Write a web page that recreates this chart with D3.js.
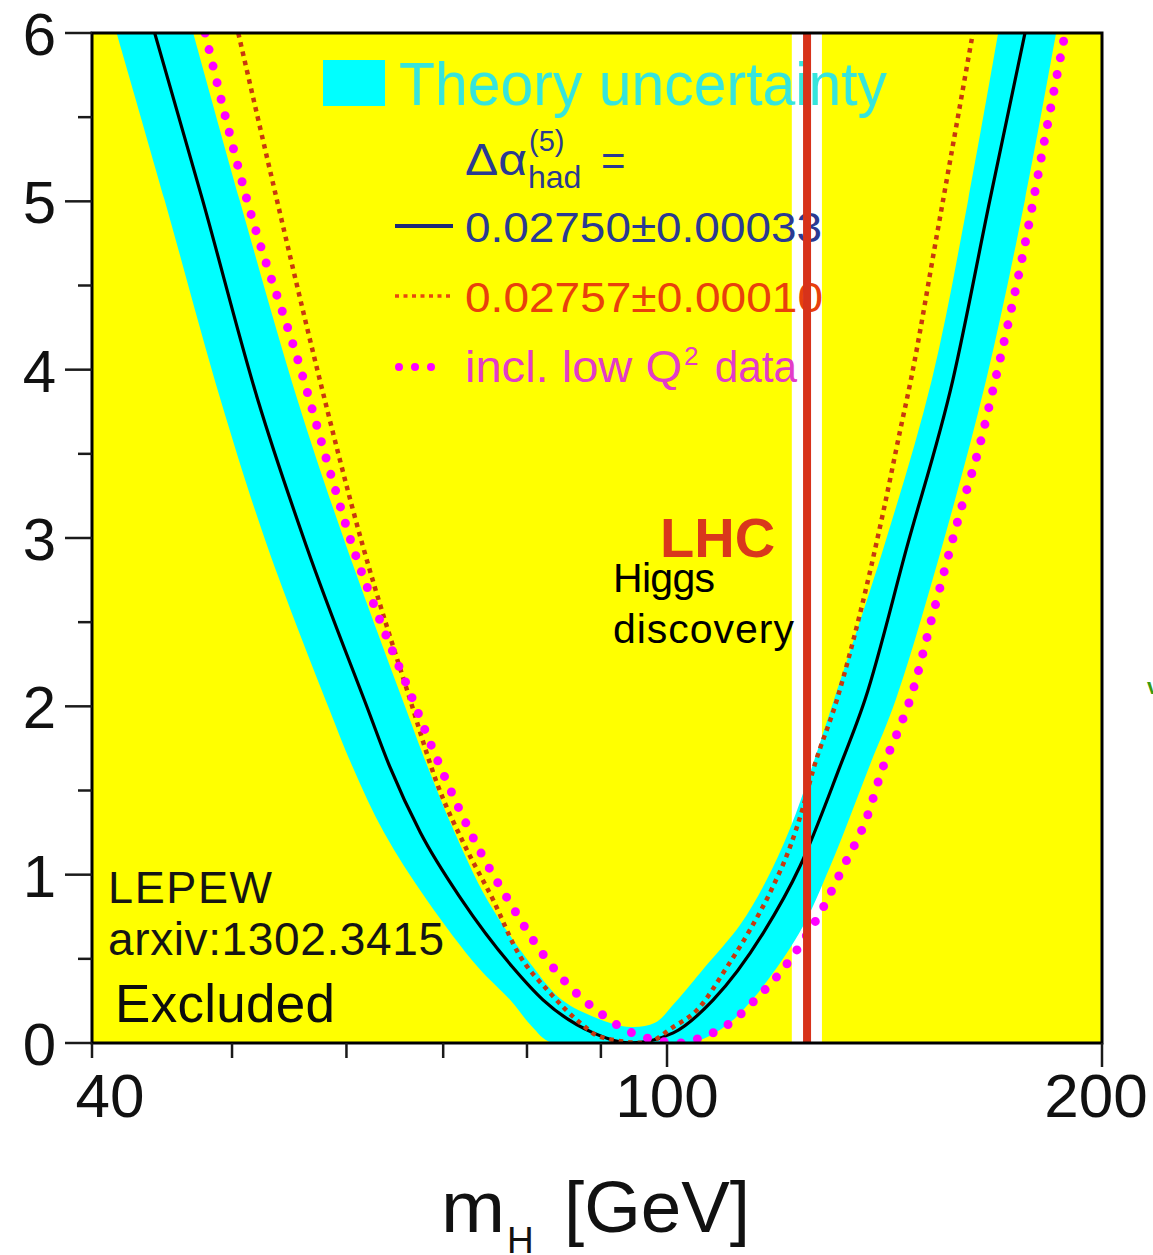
<!DOCTYPE html>
<html>
<head>
<meta charset="utf-8">
<script src="https://cdn.jsdelivr.net/npm/d3@7"></script>
<style>
  html, body { margin: 0; padding: 0; background: #fff; }
  svg { display: block; }
  text { font-family: "Liberation Sans", Arial, Helvetica, sans-serif; }
</style>
</head>
<body>
<svg id="chart" width="1153" height="1255"></svg>
<script>
// Δχ² of the electroweak fit versus the Higgs mass (log mass axis)
const massDomain = [40, 200];
const chi2Domain = [0, 6];
const massMajorTicks = [40, 100, 200];
const massTickLabels = ["40", "100", "200"];
const massMinorTicks = [50, 60, 70, 80, 90];
const chi2MajorTicks = [0, 1, 2, 3, 4, 5, 6];
const chi2MinorTicks = [0.5, 1.5, 2.5, 3.5, 4.5, 5.5];

// central fit, Δα_had = 0.02750 ± 0.00033
const fitMass = [44.2, 47.7, 52.1, 56.3, 62.1, 64.3, 67.5, 72.1, 78.2, 82.1, 88.9, 94.3,
                 101.0, 107.6, 116.5, 123.6, 131.7, 137.1, 146.6, 157.7, 167.3, 176.9];
const fitChi2 = [6.0, 5.01, 3.82, 2.95, 1.98, 1.64, 1.25, 0.85, 0.45, 0.255, 0.06, 0.0,
                 0.06, 0.255, 0.65, 1.05, 1.64, 2.04, 2.95, 3.94, 5.01, 6.0];

// theory-uncertainty band: lower and upper Δχ² edges
const bandLowMass = [41.6, 44.9, 49.1, 52.9, 58.4, 60.6, 63.7, 68.2, 74.0, 77.9, 80.6, 83.3,
                     103.7, 109.7, 114.5, 123.4, 129.7, 138.0, 144.0, 155.0, 166.3, 176.9, 185.9];
const bandLowChi2 = [6.0, 5.01, 3.82, 2.95, 1.98, 1.64, 1.25, 0.85, 0.45, 0.255, 0.1, 0.0,
                     0.0, 0.1, 0.255, 0.65, 1.05, 1.64, 2.04, 2.95, 3.94, 5.01, 6.0];
const bandHighMass = [47.0, 50.6, 55.5, 60.0, 66.0, 68.3, 71.3, 75.1, 80.8, 84.6, 89.9, 94.3,
                      98.1, 101.3, 106.2, 112.3, 116.9, 121.6, 126.0, 130.5, 141.3, 152.5, 161.6, 169.5];
const bandHighChi2 = [6.0, 5.01, 3.82, 2.95, 1.98, 1.64, 1.25, 0.85, 0.45, 0.255, 0.14, 0.095,
                      0.12, 0.24, 0.45, 0.70, 0.95, 1.27, 1.64, 2.04, 2.95, 3.94, 5.01, 6.0];

// Δα_had = 0.02757 ± 0.00010
const altMass = [50.5, 53.7, 57.2, 61.6, 66.4, 69.3, 72.7, 75.8, 78.7, 83.0, 87.1, 89.9, 96.5,
                 101.0, 104.9, 110.0, 114.1, 118.4, 121.6, 124.2, 126.2, 131.1, 136.0, 141.1, 145.0, 147.5, 153.8, 156.7, 162.8];
const altChi2 = [6.0, 5.01, 4.02, 2.95, 2.04, 1.545, 1.147, 0.85, 0.55, 0.297, 0.119, 0.036, 0.0,
                 0.095, 0.196, 0.45, 0.67, 0.93, 1.16, 1.40, 1.62, 2.04, 2.55, 3.15, 3.64, 3.94, 4.81, 5.20, 6.0];

// including low-Q² data
const lowQ2Mass = [47.9, 51.2, 55.7, 58.7, 60.6, 63.3, 66.4, 68.9, 71.9, 74.6, 77.9, 81.7, 86.1, 89.9, 94.3,
                   102.4, 105.4, 110.6, 115.4, 119.7, 123.6, 127.6, 132.4, 137.5, 141.1, 144.3, 147.3,
                   152.8, 159.5, 164.7, 168.1, 170.0, 177.5, 182.1, 188.6];
const lowQ2Chi2 = [6.0, 5.01, 4.02, 3.34, 2.95, 2.51, 2.08, 1.74, 1.38, 1.105, 0.83, 0.55, 0.315, 0.178, 0.065,
                   0.0, 0.03, 0.119, 0.267, 0.416, 0.58, 0.77, 1.045, 1.34, 1.64, 1.84, 2.04,
                   2.55, 3.15, 3.56, 3.88, 4.06, 4.81, 5.32, 6.0];

// LHC Higgs discovery
const higgsMass = 125;
const higgsWindow = [122, 128];

// ---------------------------------------------------------------
const plot = { left: 92, right: 1102, top: 33, bottom: 1043 };
const svg = d3.select("#chart");
const x = d3.scaleLog().domain(massDomain).range([plot.left, plot.right]);
const y = d3.scaleLinear().domain(chi2Domain).range([plot.bottom, plot.top]);

const zip = (ms, cs) => ms.map((m, i) => [m, cs[i]]);

svg.append("defs").append("clipPath").attr("id", "plot-clip")
  .append("rect")
  .attr("x", plot.left).attr("y", plot.top)
  .attr("width", plot.right - plot.left).attr("height", plot.bottom - plot.top);

// yellow background
svg.append("rect")
  .attr("x", plot.left).attr("y", plot.top)
  .attr("width", plot.right - plot.left).attr("height", plot.bottom - plot.top)
  .attr("fill", "#ffff00");

// allowed window around the discovered mass
svg.append("rect")
  .attr("x", x(higgsWindow[0])).attr("y", plot.top)
  .attr("width", x(higgsWindow[1]) - x(higgsWindow[0])).attr("height", plot.bottom - plot.top)
  .attr("fill", "#ffffff");

const g = svg.append("g").attr("clip-path", "url(#plot-clip)");

// theory band: lower edge left→right, straight join, upper edge right→left
const bandLine = d3.line().x(d => x(d[0])).y(d => y(d[1])).curve(d3.curveCatmullRom.alpha(0.5));
const lowerEdge = bandLine(zip(bandLowMass, bandLowChi2));
const upperEdge = bandLine(zip(bandHighMass, bandHighChi2).reverse());
g.append("path")
  .attr("d", lowerEdge + "L" + upperEdge.slice(1) + "Z")
  .attr("fill", "#00ffff");

const curve = d3.line().x(d => x(d[0])).y(d => y(d[1])).curve(d3.curveMonotoneX);

// central fit
g.append("path")
  .attr("d", curve(zip(fitMass, fitChi2)))
  .attr("fill", "none").attr("stroke", "#000").attr("stroke-width", 3.2);

// legend (drawn under the LHC line)
const leg = svg.append("g");
leg.append("rect").attr("x", 323).attr("y", 60).attr("width", 62).attr("height", 46).attr("fill", "#00ffff");
leg.append("text").attr("x", 399).attr("y", 105).attr("font-size", 62)
  .attr("textLength", 488).attr("lengthAdjust", "spacingAndGlyphs")
  .attr("fill", "#36e5dc").text("Theory uncertainty");

const navy = "#2a3a92";
leg.append("text").attr("x", 465).attr("y", 175).attr("font-size", 44)
  .attr("textLength", 62).attr("lengthAdjust", "spacingAndGlyphs")
  .attr("fill", navy).text("Δα");
leg.append("text").attr("x", 529).attr("y", 151).attr("font-size", 29).attr("fill", navy).text("(5)");
leg.append("text").attr("x", 528).attr("y", 188).attr("font-size", 32).attr("fill", navy).text("had");
leg.append("text").attr("x", 601).attr("y", 175).attr("font-size", 42).attr("fill", navy).text("=");

leg.append("line").attr("x1", 395).attr("x2", 453).attr("y1", 226).attr("y2", 226)
  .attr("stroke", "#1c2a78").attr("stroke-width", 4);
leg.append("text").attr("x", 465).attr("y", 242).attr("font-size", 43)
  .attr("textLength", 357).attr("lengthAdjust", "spacingAndGlyphs")
  .attr("fill", navy).text("0.02750±0.00033");

leg.append("line").attr("x1", 395).attr("x2", 453).attr("y1", 296).attr("y2", 296)
  .attr("stroke", "#e8480e").attr("stroke-width", 3.5).attr("stroke-dasharray", "4 4.5");
leg.append("text").attr("x", 465).attr("y", 312).attr("font-size", 43)
  .attr("textLength", 358).attr("lengthAdjust", "spacingAndGlyphs")
  .attr("fill", "#e8400c").text("0.02757±0.00010");

leg.append("line").attr("x1", 399).attr("x2", 440).attr("y1", 367).attr("y2", 367)
  .attr("stroke", "#ff00ff").attr("stroke-width", 8).attr("stroke-linecap", "round")
  .attr("stroke-dasharray", "0 16");
const q2 = leg.append("text").attr("y", 382).attr("font-size", 45).attr("fill", "#e23cc8");
q2.append("tspan").attr("x", 465).attr("textLength", 217).attr("lengthAdjust", "spacingAndGlyphs").text("incl. low Q");
q2.append("tspan").attr("x", 684).attr("y", 365).attr("font-size", 26).text("2");
q2.append("tspan").attr("x", 703).attr("y", 382).attr("textLength", 94).attr("lengthAdjust", "spacingAndGlyphs").text(" data");

// LHC line
svg.append("line")
  .attr("x1", x(higgsMass)).attr("x2", x(higgsMass))
  .attr("y1", plot.top).attr("y2", plot.bottom)
  .attr("stroke", "#d7321a").attr("stroke-width", 8);

// alternative Δα_had
g.append("path")
  .attr("d", curve(zip(altMass, altChi2)))
  .attr("fill", "none").attr("stroke", "#c8380e").attr("stroke-width", 4.5)
  .attr("stroke-dasharray", "4.5 5");

// low-Q² curve
g.append("path")
  .attr("d", curve(zip(lowQ2Mass, lowQ2Chi2)))
  .attr("fill", "none").attr("stroke", "#ff00ff").attr("stroke-width", 9)
  .attr("stroke-linecap", "round").attr("stroke-dasharray", "0 17");

// frame
svg.append("rect")
  .attr("x", plot.left).attr("y", plot.top)
  .attr("width", plot.right - plot.left).attr("height", plot.bottom - plot.top)
  .attr("fill", "none").attr("stroke", "#000").attr("stroke-width", 3);

// y axis ticks and labels
const ax = svg.append("g").attr("stroke", "#1a1a1a").attr("stroke-width", 2.5);
chi2MajorTicks.forEach(v => ax.append("line").attr("x1", plot.left - 27).attr("x2", plot.left)
  .attr("y1", y(v)).attr("y2", y(v)));
chi2MinorTicks.forEach(v => ax.append("line").attr("x1", plot.left - 14).attr("x2", plot.left)
  .attr("y1", y(v)).attr("y2", y(v)));
svg.append("g").selectAll("text").data(chi2MajorTicks).join("text")
  .attr("x", 56).attr("y", d => y(d) + 22)
  .attr("text-anchor", "end").attr("font-size", 60).attr("fill", "#111")
  .text(d => d);

// x axis ticks and labels
massMajorTicks.forEach((v, i) => ax.append("line").attr("x1", x(v)).attr("x2", x(v))
  .attr("y1", plot.bottom).attr("y2", plot.bottom + (i === 0 ? 15 : 24)));
massMinorTicks.forEach(v => ax.append("line").attr("x1", x(v)).attr("x2", x(v))
  .attr("y1", plot.bottom).attr("y2", plot.bottom + 15));
const labelNudge = [18, 0, -6];
svg.append("g").selectAll("text").data(massMajorTicks).join("text")
  .attr("x", (d, i) => x(d) + labelNudge[i]).attr("y", 1117)
  .attr("text-anchor", "middle").attr("font-size", 62).attr("fill", "#111")
  .text((d, i) => massTickLabels[i]);

// x axis title
const xt = svg.append("text").attr("y", 1232).attr("font-size", 72).attr("fill", "#111");
xt.append("tspan").attr("x", 441).attr("textLength", 64).attr("lengthAdjust", "spacingAndGlyphs").text("m");
xt.append("tspan").attr("x", 507).attr("y", 1253).attr("font-size", 37).text("H");
xt.append("tspan").attr("x", 564).attr("y", 1232).attr("textLength", 186).attr("lengthAdjust", "spacingAndGlyphs").text("[GeV]");

// annotations
svg.append("text").attr("x", 660).attr("y", 557).attr("font-size", 56).attr("font-weight", "bold")
  .attr("fill", "#d9381c").text("LHC");
const hd = svg.append("text").attr("font-family", "'Open Sans', 'Noto Sans', sans-serif")
  .attr("font-size", 41).attr("fill", "#000");
hd.append("tspan").attr("x", 613).attr("y", 592).attr("textLength", 102).text("Higgs");
hd.append("tspan").attr("x", 613).attr("y", 643).attr("textLength", 181).text("discovery");

svg.append("text").attr("x", 108).attr("y", 903).attr("font-size", 45)
  .attr("textLength", 164).attr("fill", "#151515").text("LEPEW");
svg.append("text").attr("x", 108).attr("y", 955).attr("font-size", 46)
  .attr("textLength", 336).attr("fill", "#151515").text("arxiv:1302.3415");
svg.append("text").attr("x", 115).attr("y", 1022).attr("font-size", 53)
  .attr("textLength", 220).attr("fill", "#0d0d0d").text("Excluded");

svg.append("text").attr("x", 1147).attr("y", 694).attr("font-size", 22).attr("font-weight", "bold")
  .attr("fill", "#3a9a10").text("v");
</script>
</body>
</html>
